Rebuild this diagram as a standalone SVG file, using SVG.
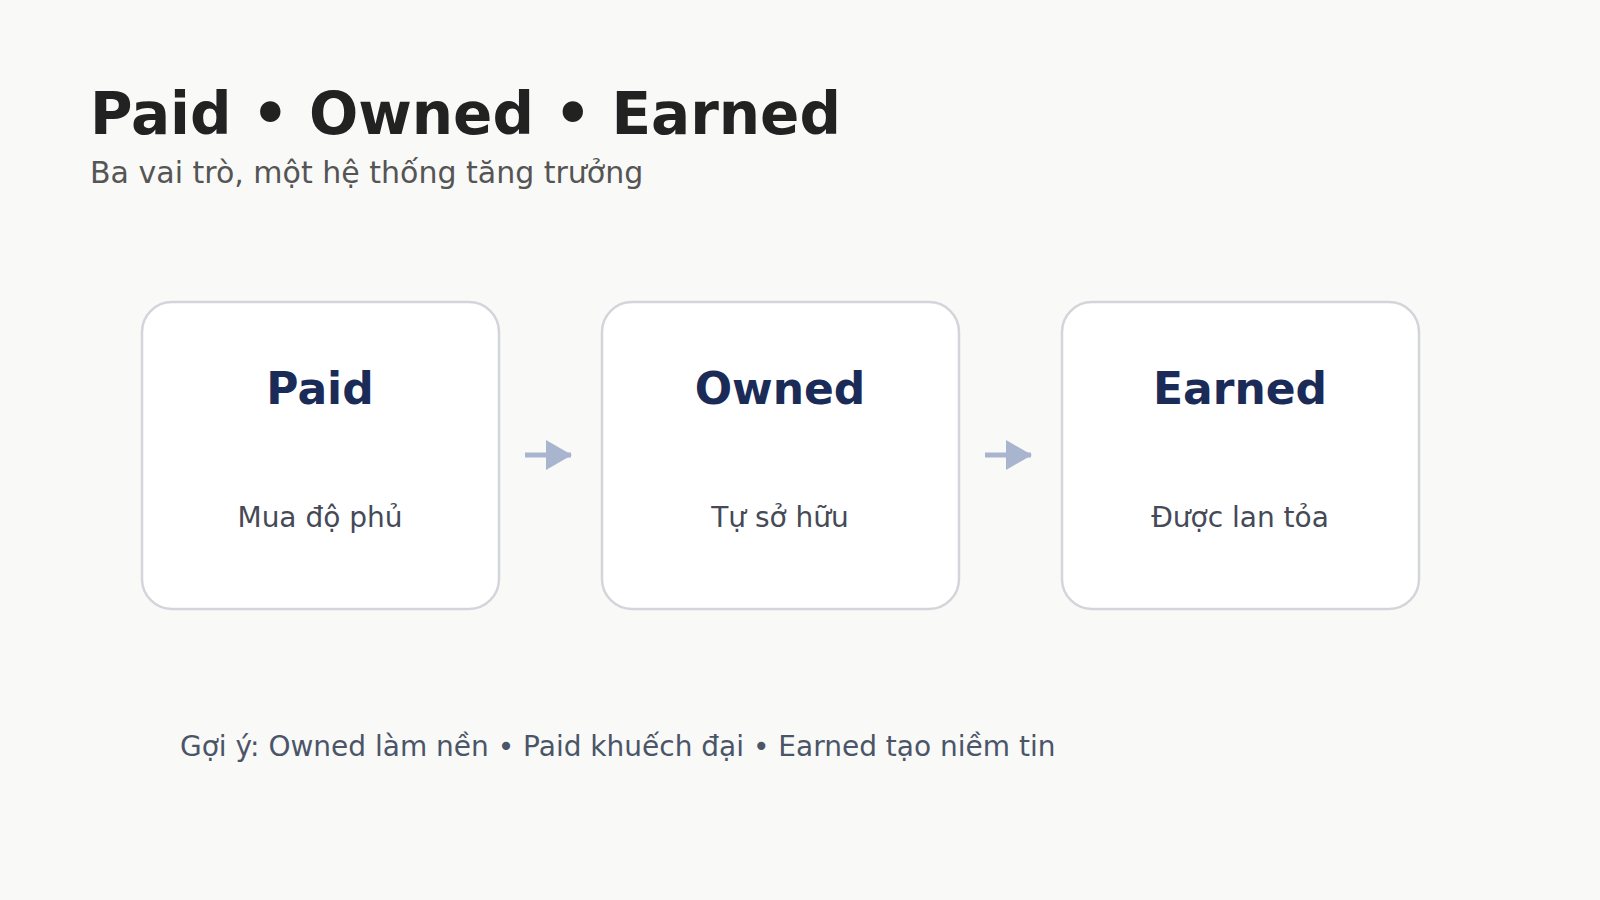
<svg xmlns="http://www.w3.org/2000/svg" width="1600" height="900" viewBox="0 0 1600 900">
<defs>
<style>
.bg{fill:#f9f9f8}
.title{font-family:"DejaVu Sans",sans-serif;font-weight:bold;font-size:58px;fill:#222222}
.sub{font-family:"DejaVu Sans",sans-serif;font-size:30px;fill:#555555}
.box{fill:#ffffff;stroke:#d3d5da;stroke-width:2.5}
.head{font-family:"DejaVu Sans",sans-serif;font-weight:bold;font-size:44px;fill:#1b2b58;text-anchor:middle}
.desc{font-family:"DejaVu Sans",sans-serif;font-size:28px;fill:#444a57;text-anchor:middle}
.conn{stroke:#a9b4cf;stroke-width:5;fill:none}
.hint{font-family:"DejaVu Sans",sans-serif;font-size:28px;fill:#4b5568}
</style>
<marker id="ah" markerWidth="26" markerHeight="30" refX="25" refY="15" orient="auto" markerUnits="userSpaceOnUse">
<path d="M0,0 L26,15 L0,30 Z" fill="#a9b4cf"/>
</marker>
</defs>
<rect class="bg" x="0" y="0" width="1600" height="900"/>
<text class="title" x="90" y="134">Paid • Owned • Earned</text>
<text class="sub" x="90" y="183">Ba vai trò, một hệ thống tăng trưởng</text>
<g id="node-paid">
<rect class="box" x="142" y="302" width="357" height="307" rx="30"/>
<text class="head" x="320" y="404">Paid</text>
<text class="desc" x="320" y="527">Mua độ phủ</text>
</g>
<g id="node-owned">
<rect class="box" x="602" y="302" width="357" height="307" rx="30"/>
<text class="head" x="780" y="404">Owned</text>
<text class="desc" x="780" y="527">Tự sở hữu</text>
</g>
<g id="node-earned">
<rect class="box" x="1062" y="302" width="357" height="307" rx="30"/>
<text class="head" x="1240" y="404">Earned</text>
<text class="desc" x="1240" y="527">Được lan tỏa</text>
</g>
<g id="connectors">
<line class="conn" x1="525" y1="455" x2="571" y2="455" marker-end="url(#ah)"/>
<line class="conn" x1="985" y1="455" x2="1031" y2="455" marker-end="url(#ah)"/>
</g>
<text class="hint" x="180" y="756">Gợi ý: Owned làm nền • Paid khuếch đại • Earned tạo niềm tin</text>
</svg>
